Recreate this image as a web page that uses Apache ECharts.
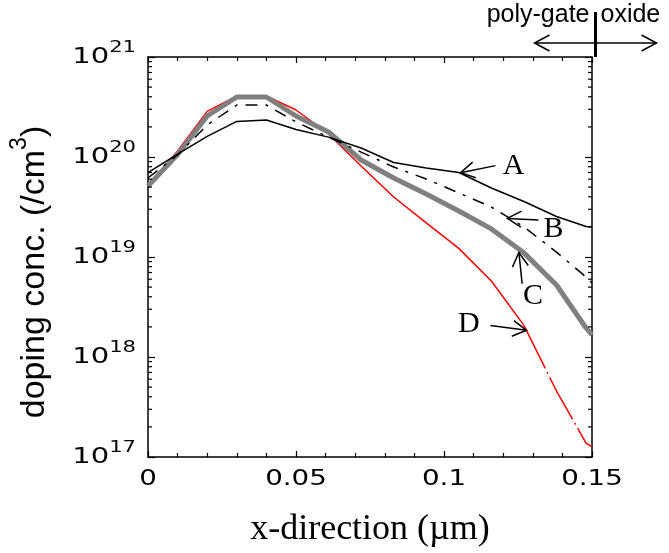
<!DOCTYPE html>
<html>
<head>
<meta charset="utf-8">
<script src="https://cdn.jsdelivr.net/npm/echarts@6/dist/echarts.min.js"></script>
<style>
  html, body { margin: 0; padding: 0; background: #fff; }
  #chart { width: 669px; height: 553px; }
</style>
</head>
<body>
<div id="chart"></div>
<script>
// Depth along the x-direction (µm)
const positions = [0, 0.01, 0.02, 0.03, 0.04, 0.05, 0.061, 0.072, 0.083, 0.094, 0.105, 0.116, 0.127, 0.138, 0.148, 0.15];

// Doping concentration profiles (/cm^3)
const profileA = [6.97e19, 1.07e20, 1.61e20, 2.27e20, 2.34e20, 1.88e20, 1.58e20, 1.23e20, 8.81e19, 7.76e19, 7.0e19, 4.9e19, 3.59e19, 2.54e19, 2.02e19, 2.0e19];
const profileB = [6.17e19, 1.05e20, 2.09e20, 3.31e20, 3.31e20, 2.24e20, 1.58e20, 1.12e20, 7.94e19, 6.03e19, 4.37e19, 3.16e19, 2.0e19, 1.12e19, 6.3e18, 5.5e18];
const profileC = [5.13e19, 1.06e20, 2.57e20, 3.98e20, 3.98e20, 2.57e20, 1.78e20, 9.33e19, 6.17e19, 4.27e19, 2.88e19, 1.91e19, 1.1e19, 5.25e18, 1.95e18, 1.66e18];
const profileD = [5.13e19, 1.15e20, 2.86e20, 4.07e20, 4.07e20, 2.95e20, 1.7e20, 8.13e19, 3.98e19, 2.19e19, 1.22e19, 5.75e18, 2.07e18, 4.57e17, 1.38e17, 1.26e17];
// profile D is drawn solid up to this index, dash-dotted after it
const dTailStart = 12;

// Axis ticks and their labels
const xTicks = [0, 0.05, 0.1, 0.15];
const xTickLabels = ['0', '0.05', '0.1', '0.15'];
const yDecades = [1e17, 1e18, 1e19, 1e20, 1e21];
const yTickExponents = ['17', '18', '19', '20', '21'];
const minorMultipliers = [2, 3, 4, 5, 6, 7, 8, 9];

// Curve call-outs: label, arrow tip, arrow tail, label centre (data coordinates)
const calloutLabels = ['A', 'B', 'C', 'D'];
const calloutTipX = [0.1056, 0.1214, 0.1253, 0.1279];
const calloutTipV = [6.97e19, 2.43e19, 1.11e19, 1.85e18];
const calloutTailX = [0.1174, 0.1319, 0.1264, 0.1157];
const calloutTailV = [8.2e19, 2.35e19, 5.4e18, 2.07e18];
const calloutTextX = [0.1235, 0.137, 0.1301, 0.1084];
const calloutTextV = [8.1e19, 1.9e19, 4.1e18, 2.15e18];

const pairs = (vals) => positions.map((x, i) => [x, vals[i]]);
const minorTickValues = [];
yDecades.slice(0, -1).forEach(d => minorMultipliers.forEach(m => minorTickValues.push([0, d * m])));

const xMin = xTicks[0];
const xMax = xTicks[xTicks.length - 1];
const tickFont = '"DejaVu Sans", sans-serif';
const tickStretch = 1.32;

const chart = echarts.init(document.getElementById('chart'), null, { renderer: 'canvas' });

const axisLineStyle = { color: '#000', width: 1.5 };

function xAxisCommon(position) {
  return {
    type: 'value',
    position: position,
    min: xMin,
    max: xMax,
    interval: 0.05,
    axisLine: { show: true, onZero: false, lineStyle: axisLineStyle },
    axisTick: { show: true, inside: true, length: 6, lineStyle: { color: '#000', width: 1.2 } },
    minorTick: { show: true, splitNumber: 5, length: 4, lineStyle: { color: '#000', width: 1.2 } },
    axisLabel: { show: false },
    splitLine: { show: false },
    minorSplitLine: { show: false }
  };
}

function yAxisCommon(position) {
  return {
    type: 'log',
    logBase: 10,
    position: position,
    min: yDecades[0],
    max: yDecades[yDecades.length - 1],
    splitNumber: 4,
    axisLine: { show: true, onZero: false, lineStyle: axisLineStyle },
    axisTick: { show: true, inside: true, length: 7, lineStyle: { color: '#000', width: 1.2 } },
    axisLabel: { show: false },
    splitLine: { show: false }
  };
}

// Tick labels in a wide face: placed at the tick values, stretched horizontally
function xTickLabelItem(params, api) {
  const p = api.coord([api.value(0), yDecades[0]]);
  return {
    type: 'text', x: p[0], y: p[1] + 23, scaleX: tickStretch,
    style: { text: xTickLabels[params.dataIndex], fontSize: 21, fontFamily: tickFont,
             fill: '#000', align: 'center', verticalAlign: 'middle' }
  };
}

function yTickLabelItem(params, api) {
  const p = api.coord([xMin, api.value(1)]);
  return {
    type: 'text', x: p[0] - 12, y: p[1] - 3, scaleX: tickStretch,
    style: {
      text: '{b|10}{s|' + yTickExponents[params.dataIndex] + '}',
      align: 'right', verticalAlign: 'middle',
      rich: {
        b: { fontSize: 22, fontFamily: tickFont, fill: '#000', verticalAlign: 'bottom', lineHeight: 28 },
        s: { fontSize: 16, fontFamily: tickFont, fill: '#000', verticalAlign: 'top', lineHeight: 28 }
      }
    }
  };
}

function calloutItem(params, api) {
  const i = params.dataIndex;
  const tip = api.coord([api.value(0), api.value(1)]);
  const tail = api.coord([api.value(2), api.value(3)]);
  const txt = api.coord([api.value(4), api.value(5)]);
  const ang = Math.atan2(tail[1] - tip[1], tail[0] - tip[0]);
  const len = 16, spread = 0.52;
  const a1 = [tip[0] + len * Math.cos(ang + spread), tip[1] + len * Math.sin(ang + spread)];
  const a2 = [tip[0] + len * Math.cos(ang - spread), tip[1] + len * Math.sin(ang - spread)];
  return {
    type: 'group',
    children: [
      { type: 'line', shape: { x1: tail[0], y1: tail[1], x2: tip[0], y2: tip[1] },
        style: { stroke: '#000', lineWidth: 1.5 } },
      { type: 'polyline', shape: { points: [a1, tip, a2] },
        style: { stroke: '#000', lineWidth: 1.5, fill: null } },
      { type: 'text', x: txt[0], y: txt[1],
        style: { text: calloutLabels[i], fontSize: 30, fontFamily: '"Liberation Serif", serif',
                 fill: '#000', align: 'center', verticalAlign: 'middle' } }
    ]
  };
}

function gateItem(params, api) {
  const p = api.coord([api.value(0), api.value(1)]);
  const bx = p[0] + 3.5;
  const ay = p[1] - 14;
  const head = (x, y, dir) => ({
    type: 'polyline',
    shape: { points: [[x - dir * 15, y - 8], [x, y], [x - dir * 15, y + 8]] },
    style: { stroke: '#000', lineWidth: 1.5, fill: null }
  });
  return {
    type: 'group',
    children: [
      { type: 'rect', shape: { x: bx - 1.5, y: p[1] - 45, width: 3, height: 45 }, style: { fill: '#000' } },
      { type: 'line', shape: { x1: bx, y1: ay, x2: bx - 61, y2: ay }, style: { stroke: '#000', lineWidth: 1.5 } },
      head(bx - 61, ay, -1),
      { type: 'line', shape: { x1: bx, y1: ay, x2: bx + 61, y2: ay }, style: { stroke: '#000', lineWidth: 1.5 } },
      head(bx + 61, ay, 1),
      { type: 'text', x: bx - 6, y: p[1] - 42,
        style: { text: 'poly-gate', fontSize: 25, fontFamily: '"Liberation Sans", Arial, sans-serif',
                 fill: '#000', align: 'right', verticalAlign: 'middle' } },
      { type: 'text', x: bx + 5, y: p[1] - 42,
        style: { text: 'oxide', fontSize: 25, fontFamily: '"Liberation Sans", Arial, sans-serif',
                 fill: '#000', align: 'left', verticalAlign: 'middle' } }
    ]
  };
}

const option = {
  backgroundColor: '#fff',
  animation: false,
  grid: { left: 147.5, right: 77, top: 57, bottom: 94, containLabel: false },
  xAxis: [
    Object.assign(xAxisCommon('bottom'), {
      name: 'x-direction (\u00b5m)',
      nameLocation: 'middle',
      nameGap: 55,
      nameTextStyle: { fontSize: 36, fontFamily: '"Liberation Serif", serif', color: '#000' }
    }),
    xAxisCommon('top')
  ],
  yAxis: [
    Object.assign(yAxisCommon('left'), {
      name: '{t|doping conc. (/cm}{s|3}{t|)}',
      nameLocation: 'middle',
      nameRotate: 90,
      nameGap: 96,
      nameTextStyle: {
        padding: [0, 30, 0, 0],
        rich: {
          t: { fontSize: 34, fontFamily: '"Liberation Sans", Arial, sans-serif', color: '#000', verticalAlign: 'bottom', lineHeight: 44 },
          s: { fontSize: 23, fontFamily: '"Liberation Sans", Arial, sans-serif', color: '#000', verticalAlign: 'top', lineHeight: 44 }
        }
      }
    }),
    yAxisCommon('right')
  ],
  series: [
    {
      name: 'D', type: 'line', data: pairs(profileD).slice(0, dTailStart + 1),
      showSymbol: false, symbol: 'none', lineStyle: { color: '#ff0000', width: 1.5 }, z: 2
    },
    {
      name: 'D tail', type: 'line', data: pairs(profileD).slice(dTailStart),
      showSymbol: false, symbol: 'none', lineStyle: { color: '#ff0000', width: 1.5, type: [48, 4, 2, 4] }, z: 2
    },
    {
      name: 'C', type: 'line', data: pairs(profileC),
      showSymbol: false, symbol: 'none', lineStyle: { color: '#808080', width: 5 }, z: 3
    },
    {
      name: 'A', type: 'line', data: pairs(profileA),
      showSymbol: false, symbol: 'none', lineStyle: { color: '#000', width: 1.5 }, z: 4
    },
    {
      name: 'B', type: 'line', data: pairs(profileB),
      showSymbol: false, symbol: 'none', lineStyle: { color: '#000', width: 1.5, type: [12, 8, 3, 8] }, z: 4
    },
    {
      name: 'log minor ticks', type: 'custom', clip: false, silent: true, z: 5,
      data: minorTickValues,
      renderItem: (params, api) => {
        const v = api.value(1);
        const l = api.coord([xMin, v]);
        const r = api.coord([xMax, v]);
        return {
          type: 'group',
          children: [
            { type: 'line', shape: { x1: l[0], y1: l[1], x2: l[0] + 4, y2: l[1] }, style: { stroke: '#000', lineWidth: 1.2 } },
            { type: 'line', shape: { x1: r[0], y1: r[1], x2: r[0] - 4, y2: r[1] }, style: { stroke: '#000', lineWidth: 1.2 } }
          ]
        };
      }
    },
    {
      name: 'x tick labels', type: 'custom', clip: false, silent: true, z: 5,
      data: xTicks.map(x => [x]),
      renderItem: xTickLabelItem
    },
    {
      name: 'y tick labels', type: 'custom', clip: false, silent: true, z: 5,
      data: yDecades.map(v => [xMin, v]),
      renderItem: yTickLabelItem
    },
    {
      name: 'callouts', type: 'custom', clip: false, silent: true, z: 6,
      data: calloutLabels.map((_, i) => [calloutTipX[i], calloutTipV[i], calloutTailX[i], calloutTailV[i], calloutTextX[i], calloutTextV[i]]),
      renderItem: calloutItem
    },
    {
      name: 'gate interface', type: 'custom', clip: false, silent: true, z: 6,
      data: [[xMax, yDecades[yDecades.length - 1]]],
      renderItem: gateItem
    }
  ]
};

chart.setOption(option);
</script>
</body>
</html>
